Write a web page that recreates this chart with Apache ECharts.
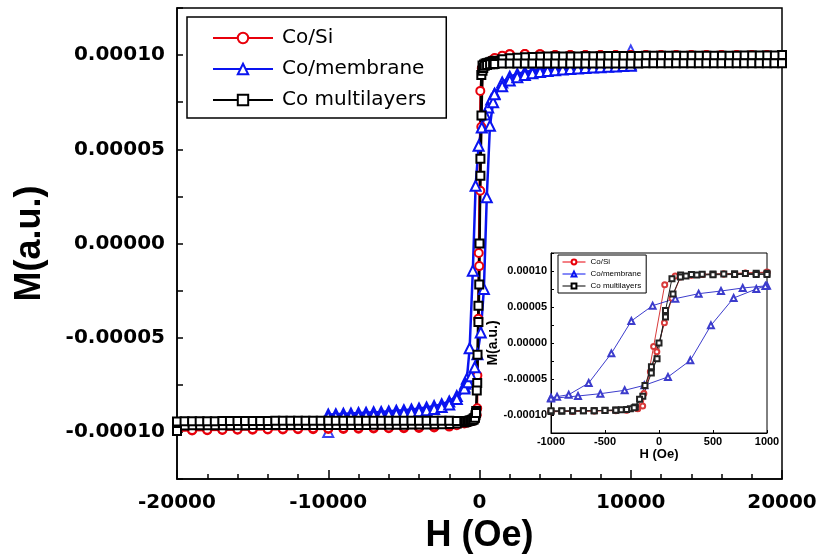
<!DOCTYPE html>
<html lang="en">
<head>
<meta charset="utf-8" />
<title>M-H loops</title>
<script src="https://cdn.jsdelivr.net/npm/echarts/dist/echarts.min.js"></script>
<style>
  html, body { margin: 0; padding: 0; background: #fff; }
  #main { width: 824px; height: 556px; }
</style>
</head>
<body>
<div id="main"></div>
<script>
// field H in Oe, magnetization M in units of 1e-5 a.u.
// each loop: descending branch (+H -> -H) then ascending branch (-H -> +H)

var siDown = [[20000,10.00],[19000,10.00],[18000,10.00],[17000,10.00],[16000,10.00],[15000,10.00],[14000,10.00],[13000,10.00],
  [12000,10.00],[11000,10.00],[10000,10.00],[9000,10.00],[8000,10.00],[7000,10.00],[6000,10.00],[5000,10.00],[4000,10.05],
  [3000,10.06],[2000,10.05],[1500,9.95],[1000,9.80],[800,9.70],[600,9.60],[400,9.52],[300,9.45],[150,9.30],[53,8.10],
  [-50,-0.50],[-151,-8.75],[-197,-9.12],[-300,-9.35],[-400,-9.40],[-600,-9.45],[-800,-9.50],[-1000,-9.55],[-1500,-9.65],
  [-2000,-9.72],[-3000,-9.77],[-4000,-9.79],[-5000,-9.80],[-6000,-9.81],[-7000,-9.82],[-8000,-9.83],[-9000,-9.84],
  [-10000,-9.85],[-11000,-9.86],[-12000,-9.86],[-13000,-9.87],[-14000,-9.87],[-15000,-9.88],[-16000,-9.89],[-17000,-9.90],
  [-18000,-9.91],[-19000,-9.92],[-20000,-9.95]];
var siUp = [[-20000,-9.93],[-19000,-9.90],[-18000,-9.88],[-17000,-9.87],[-16000,-9.86],[-15000,-9.85],[-14000,-9.84],
  [-13000,-9.83],[-12000,-9.82],[-11000,-9.81],[-10000,-9.80],[-9000,-9.79],[-8000,-9.78],[-7000,-9.77],[-6000,-9.76],
  [-5000,-9.75],[-4000,-9.73],[-3000,-9.70],[-2000,-9.65],[-1000,-9.50],[-800,-9.45],[-600,-9.40],[-400,-9.35],[-300,-9.30],
  [-200,-9.10],[-140,-7.00],[-80,-4.00],[-20,-1.20],[50,2.80],[120,6.20],[198,9.17],[300,9.40],[400,9.50],[600,9.60],
  [800,9.72],[1000,9.85],[1500,9.97],[2000,10.05],[3000,10.06],[4000,10.05],[5000,10.00],[6000,10.00],[7000,10.00],
  [8000,10.00],[9000,10.00],[10000,10.00],[11000,10.00],[12000,10.00],[13000,10.00],[14000,10.00],[15000,10.00],
  [16000,10.00],[17000,10.00],[18000,10.00],[19000,10.00],[20000,10.00]];

var memDown = [[10000,9.50],[9500,9.49],[9000,9.48],[8500,9.47],[8000,9.46],[7500,9.44],[7000,9.42],[6500,9.40],[6000,9.38],
  [5500,9.35],[5000,9.32],[4500,9.28],[4000,9.23],[3500,9.17],[3000,9.10],[2500,9.00],[2000,8.85],[1500,8.55],[1000,7.95],
  [775,7.64],[574,7.22],[367,6.85],[151,6.16],[-59,5.19],[-256,3.06],[-441,-1.44],[-651,-5.56],[-836,-7.18],[-944,-7.45],
  [-1000,-7.60],[-1500,-8.10],[-2000,-8.38],[-2500,-8.53],[-3000,-8.63],[-3500,-8.70],[-4000,-8.76],[-4500,-8.81],
  [-5000,-8.85],[-5500,-8.88],[-6000,-8.91],[-6500,-8.94],[-7000,-8.96],[-7500,-8.98],[-8000,-9.00],[-8500,-9.02],
  [-9000,-9.04],[-9500,-9.06],[-10000,-9.08]];
var memUp = [[-10000,-9.20],[-9500,-9.19],[-9000,-9.18],[-8500,-9.17],[-8000,-9.16],[-7500,-9.14],[-7000,-9.12],[-6500,-9.10],
  [-6000,-9.07],[-5500,-9.04],[-5000,-9.00],[-4500,-8.96],[-4000,-8.91],[-3500,-8.85],[-3000,-8.78],[-2500,-8.68],
  [-2000,-8.55],[-1500,-8.25],[-1000,-7.70],[-750,-7.36],[-543,-7.04],[-318,-6.57],[-136,-5.88],[83,-4.72],[290,-2.41],
  [481,2.45],[691,6.25],[901,7.50],[985,7.92],[1500,8.35],[2000,8.65],[2500,8.83],[3000,8.95],[3500,9.04],[4000,9.10],
  [4500,9.15],[5000,9.19],[5500,9.23],[6000,9.26],[6500,9.29],[7000,9.32],[7500,9.34],[8000,9.36],[8500,9.38],[9000,9.40],
  [9500,9.42],[10000,9.44]];
var memEnds = [[10000,10.25],[-10000,-10.00]];

var multiDown = [[20000,10.00],[19500,9.98],[19000,9.98],[18500,9.98],[18000,9.98],[17500,9.98],[17000,9.97],[16500,9.97],
  [16000,9.97],[15500,9.97],[15000,9.97],[14500,9.97],[14000,9.97],[13500,9.96],[13000,9.96],[12500,9.96],[12000,9.96],
  [11500,9.96],[11000,9.96],[10500,9.95],[10000,9.95],[9500,9.95],[9000,9.95],[8500,9.95],[8000,9.94],[7500,9.94],
  [7000,9.94],[6500,9.93],[6000,9.93],[5500,9.93],[5000,9.92],[4500,9.92],[4000,9.91],[3500,9.90],[3000,9.88],[2500,9.86],
  [2000,9.83],[1500,9.78],[1000,9.70],[900,9.68],[800,9.65],[700,9.62],[600,9.60],[500,9.57],[400,9.55],[300,9.50],
  [200,9.45],[120,8.94],[60,4.50],[-18,-2.18],[-71,-4.17],[-150,-7.40],[-219,-8.89],[-265,-9.12],[-350,-9.27],[-400,-9.30],
  [-500,-9.35],[-600,-9.40],[-700,-9.42],[-800,-9.45],[-900,-9.47],[-1000,-9.50],[-1500,-9.55],
  [-2000,-9.58],[-2500,-9.60],[-3000,-9.60],[-3500,-9.61],[-4000,-9.61],[-4500,-9.61],[-5000,-9.62],[-5500,-9.62],
  [-6000,-9.62],[-6500,-9.62],[-7000,-9.62],[-7500,-9.63],[-8000,-9.63],[-8500,-9.63],[-9000,-9.63],[-9500,-9.63],
  [-10000,-9.63],[-10500,-9.63],[-11000,-9.63],[-11500,-9.64],[-12000,-9.64],[-12500,-9.64],[-13000,-9.64],[-13500,-9.64],
  [-14000,-9.64],[-14500,-9.64],[-15000,-9.64],[-15500,-9.65],[-16000,-9.65],[-16500,-9.65],[-17000,-9.65],[-17500,-9.65],
  [-18000,-9.65],[-18500,-9.65],[-19000,-9.65],[-19500,-9.66],[-20000,-9.95]];
var multiUp = [[-20000,-9.45],[-19500,-9.43],[-19000,-9.43],[-18500,-9.43],[-18000,-9.43],[-17500,-9.43],[-17000,-9.42],
  [-16500,-9.42],[-16000,-9.42],[-15500,-9.42],[-15000,-9.42],[-14500,-9.42],[-14000,-9.42],[-13500,-9.41],[-13000,-9.41],
  [-12500,-9.41],[-12000,-9.41],[-11500,-9.41],[-11000,-9.41],[-10500,-9.41],[-10000,-9.41],[-9500,-9.41],[-9000,-9.41],
  [-8500,-9.41],[-8000,-9.41],[-7500,-9.41],[-7000,-9.41],[-6500,-9.41],[-6000,-9.41],[-5500,-9.41],[-5000,-9.41],
  [-4500,-9.41],[-4000,-9.41],[-3500,-9.41],[-3000,-9.41],[-2500,-9.41],[-2000,-9.41],[-1500,-9.42],[-1000,-9.42],
  [-900,-9.42],[-800,-9.42],[-700,-9.41],[-600,-9.40],[-500,-9.38],[-400,-9.35],[-300,-9.25],[-230,-9.00],[-180,-7.80],
  [-130,-5.90],[-70,-3.30],[0,0.00],[60,3.60],[130,6.80],[198,9.17],[250,9.32],[350,9.43],[500,9.48],[700,9.51],
  [900,9.52],[1000,9.53],[1500,9.55],[2000,9.56],
  [2500,9.56],[3000,9.56],[3500,9.56],[4000,9.56],[4500,9.56],[5000,9.56],[5500,9.56],[6000,9.56],[6500,9.56],[7000,9.56],
  [7500,9.56],[8000,9.56],[8500,9.56],[9000,9.56],[9500,9.56],[10000,9.56],[10500,9.56],[11000,9.57],[11500,9.57],
  [12000,9.57],[12500,9.57],[13000,9.57],[13500,9.57],[14000,9.57],[14500,9.57],[15000,9.57],[15500,9.57],[16000,9.57],
  [16500,9.57],[17000,9.57],[17500,9.57],[18000,9.57],[18500,9.57],[19000,9.57],[19500,9.57],[20000,9.57]];

var names = ['Co/Si', 'Co/membrane', 'Co multilayers'];
var mTicks = [-12.5, 12.5, 2.5];   // min, max, step of the M axis (1e-5 a.u.)

var chart = echarts.init(document.getElementById('main'));

function mLabel(v) {
    if (Math.abs(v % 5) > 1e-6) return '';
    return (v * 1e-5).toFixed(5);
}
function hLabel(v) {
    return String(v);
}

function loop(name, data, color, symbol, size, width, idx) {
    return {
        name: name, type: 'line', data: data,
        xAxisIndex: idx, yAxisIndex: idx,
        symbol: symbol, symbolSize: size, showAllSymbol: true,
        lineStyle: { color: color, width: width },
        itemStyle: { color: color, borderWidth: idx ? 1 : 1.5 },
        emphasis: { disabled: true }
    };
}

var black = '#000';
var bold = 'bold';

option = {
    animation: false,
    backgroundColor: '#fff',
    grid: [
        { left: 177, right: 42, top: 8, bottom: 77, show: true, borderColor: black, borderWidth: 1.5, outerBoundsMode: 'none' },
        { left: 551, right: 57, top: 253, bottom: 123, show: true, borderColor: black, borderWidth: 1,
          backgroundColor: '#fff', outerBoundsMode: 'none' }
    ],
    legend: [{
        data: names, orient: 'vertical', left: 187, top: 17,
        padding: [11, 20, 8, 25], itemWidth: 60, itemHeight: 13, itemGap: 11,
        borderColor: black, borderWidth: 1.5, backgroundColor: '#fff', selectedMode: false,
        textStyle: { fontFamily: 'DejaVu Sans', fontSize: 20, color: black, padding: [0, 0, 0, 4] }
    }, {
        data: names, orient: 'vertical', left: 558, top: 255,
        padding: [3, 5, 3, 4], itemWidth: 23, itemHeight: 6, itemGap: 4,
        borderColor: black, borderWidth: 1, backgroundColor: '#fff', selectedMode: false,
        lineStyle: { width: 1 }, itemStyle: { borderWidth: 1 },
        textStyle: { fontFamily: 'Liberation Sans', fontSize: 8, color: black }
    }],
    xAxis: [{
        gridIndex: 0, type: 'value', min: -20000, max: 20000, interval: 10000,
        axisLine: { onZero: false, lineStyle: { color: black, width: 1.5 } },
        axisTick: { inside: true, length: 9, lineStyle: { color: black, width: 1.5 } },
        minorTick: { show: true, splitNumber: 5, length: 5, lineStyle: { color: black, width: 1.5 } },
        axisLabel: { margin: 14, formatter: hLabel, fontFamily: 'DejaVu Sans', fontWeight: bold, fontSize: 20, color: black },
        splitLine: { show: false },
        name: 'H (Oe)', nameLocation: 'middle', nameGap: 29,
        nameTextStyle: { fontFamily: 'Liberation Sans', fontWeight: bold, fontSize: 36, color: black }
    }, {
        gridIndex: 1, type: 'value', min: -1000, max: 1000, interval: 500,
        axisLine: { onZero: false, lineStyle: { color: black, width: 1 } },
        axisTick: { inside: true, length: 3, lineStyle: { color: black } },
        axisLabel: { margin: 3, formatter: hLabel, fontFamily: 'Liberation Sans', fontWeight: bold, fontSize: 11, color: black },
        splitLine: { show: false },
        name: 'H (Oe)', nameLocation: 'middle', nameGap: 12,
        nameTextStyle: { fontFamily: 'Liberation Sans', fontWeight: bold, fontSize: 13, color: black }
    }],
    yAxis: [{
        gridIndex: 0, type: 'value', min: mTicks[0], max: mTicks[1], interval: mTicks[2],
        axisLine: { onZero: false, lineStyle: { color: black, width: 1.5 } },
        axisTick: { inside: true, length: 6, lineStyle: { color: black, width: 1.5 } },
        axisLabel: { margin: 12, formatter: mLabel, fontFamily: 'DejaVu Sans', fontWeight: bold, fontSize: 20, color: black },
        splitLine: { show: false },
        name: 'M(a.u.)', nameLocation: 'middle', nameGap: 129,
        nameTextStyle: { fontFamily: 'Liberation Sans', fontWeight: bold, fontSize: 36, color: black }
    }, {
        gridIndex: 1, type: 'value', min: mTicks[0], max: mTicks[1], interval: mTicks[2],
        axisLine: { onZero: false, lineStyle: { color: black, width: 1 } },
        axisTick: { inside: true, length: 3, lineStyle: { color: black } },
        axisLabel: { margin: 4, formatter: mLabel, fontFamily: 'Liberation Sans', fontWeight: bold, fontSize: 11, color: black },
        splitLine: { show: false },
        name: 'M(a.u.)', nameLocation: 'middle', nameGap: 44,
        nameTextStyle: { fontFamily: 'Liberation Sans', fontWeight: bold, fontSize: 14, color: black }
    }],
    series: [
        loop(names[0], siDown.concat(siUp), '#e8000b', 'emptyCircle', 8, 2, 0),
        loop(names[1], memDown.concat(memUp), '#0a14f0', 'emptyTriangle', 10, 2.5, 0),
        { name: names[1], type: 'scatter', data: memEnds, symbol: 'emptyTriangle', symbolSize: 10,
          itemStyle: { color: '#0a14f0', borderWidth: 1.5 }, xAxisIndex: 0, yAxisIndex: 0 },
        loop(names[2], multiDown.concat(multiUp), '#000', 'emptyRect', 8, 2.5, 0),

        loop(names[0], siDown.concat(siUp), '#d83a3a', 'emptyCircle', 5, 1, 1),
        loop(names[1], memDown.concat(memUp), '#3c3ccc', 'emptyTriangle', 6, 1, 1),
        loop(names[2], multiDown.concat(multiUp), '#222', 'emptyRect', 5, 1, 1)
    ]
};

if (option && typeof option === 'object') {
    chart.setOption(option, true);
}
</script>
</body>
</html>
